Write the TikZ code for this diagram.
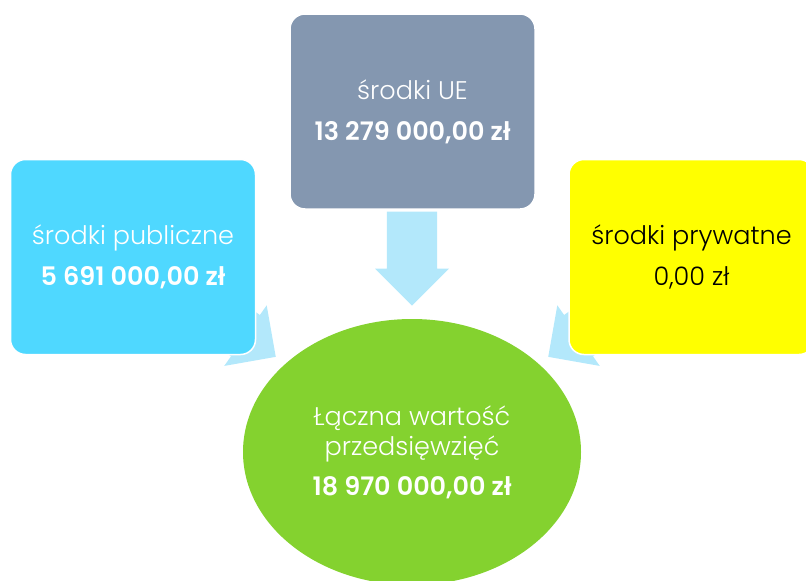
\documentclass[tikz,border=0pt]{standalone}
\usepackage{fontspec}
\setmainfont{Poppins}[UprightFont={* Light}, BoldFont={* SemiBold}]
\usepackage{xcolor}
\usetikzlibrary{shapes.arrows,shapes.geometric}
\definecolor{publiczne}{HTML}{4FD8FF}
\definecolor{unijne}{HTML}{8497B0}
\definecolor{prywatne}{HTML}{FFFF00}
\definecolor{razem}{HTML}{84D22F}
\definecolor{strzalka}{HTML}{B3E8FB}

\tikzset{
	zrodlo/.style={draw=white, line width=1.5pt, rounded corners=15pt, minimum width=245pt, minimum height=195pt, inner sep=0pt, align=center, font=\fontsize{25.5}{41}\selectfont},
	strzala/.style={single arrow, fill=strzalka, minimum height=94pt, minimum width=74pt, inner xsep=0pt, inner ysep=15pt, anchor=tip},
}

\begin{document}
\begin{tikzpicture}[x=1pt, y=-1pt]
	\useasboundingbox (0,0) rectangle (806,581);

	% arrows behind the boxes
	\node[strzala, rotate=-90] (sUE) at (412,306) {};
	\node[strzala, rotate=-35] (sPub) at (276,357) {};
	\node[strzala, rotate=-145] (sPryw) at (548,357) {};

	% sources
	\node[zrodlo, fill=unijne, text=white] (ue) at (412.5,111.5) {środki UE\\\textbf{13 279 000,00 zł}};
	\node[zrodlo, fill=publiczne, text=white] (pub) at (133,257) {środki publiczne\\\textbf{5 691 000,00 zł}};
	\node[zrodlo, fill=prywatne, text=black] (pryw) at (691.5,257) {środki prywatne\\0,00 zł};

	% total
	\node[ellipse, fill=razem, text=white, minimum width=338pt, minimum height=266pt, inner sep=0pt, align=center, font=\fontsize{25.5}{30}\selectfont] (suma) at (412,452) {Łączna wartość\\przedsięwzięć\\[10pt]\textbf{18 970 000,00 zł}};
\end{tikzpicture}
\end{document}
